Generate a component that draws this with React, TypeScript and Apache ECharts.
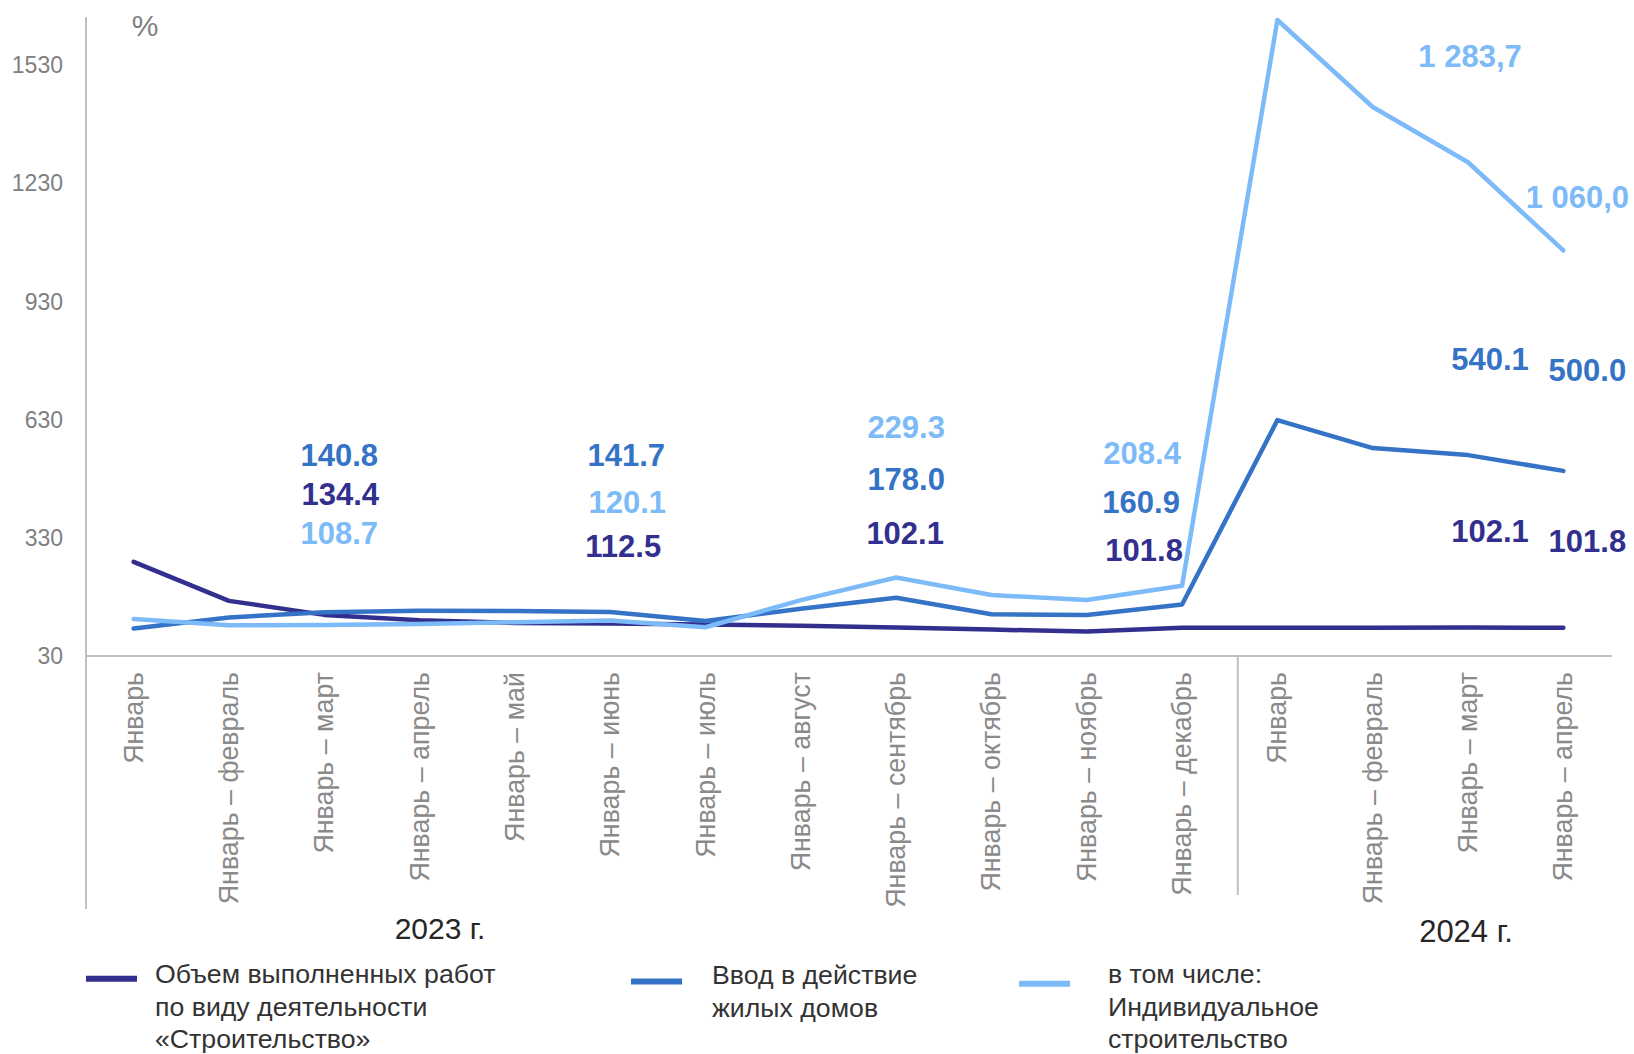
import React, { useEffect, useRef } from "react";
import * as echarts from "echarts";

// ---------- data ----------
const categories = [
  "Январь",
  "Январь – февраль",
  "Январь – март",
  "Январь – апрель",
  "Январь – май",
  "Январь – июнь",
  "Январь – июль",
  "Январь – август",
  "Январь – сентябрь",
  "Январь – октябрь",
  "Январь – ноябрь",
  "Январь – декабрь",
  "Январь",
  "Январь – февраль",
  "Январь – март",
  "Январь – апрель",
];

const seriesNames = [
  "Объем выполненных работ\nпо виду деятельности\n«Строительство»",
  "Ввод в действие\nжилых домов",
  "в том числе:\nИндивидуальное\nстроительство",
];

const workVolume = [269, 170, 134.4, 121, 114, 112.5, 110, 107, 102.1, 97, 92, 101.8, 102.0, 101.8, 102.1, 101.8];
const housing = [100, 128, 140.8, 145, 144, 141.7, 119, 150, 178.0, 136, 134, 160.9, 629, 558, 540.1, 500.0];
const individual = [124, 108, 108.7, 111, 116, 120.1, 103, 172, 229.3, 185, 172, 208.4, 1645, 1424, 1283.7, 1060.0];

const labelCategoryIndex = [2, 5, 8, 11, 14, 15];
const workLabels = ["134.4", "112.5", "102.1", "101.8", "102.1", "101.8"];
const housingLabels = ["140.8", "141.7", "178.0", "160.9", "540.1", "500.0"];
const individualLabels = ["108.7", "120.1", "229.3", "208.4", "1 283,7", "1 060,0"];

const yearLabels = ["2023 г.", "2024 г."];
const unitLabel = "%";

// ---------- layout / style ----------
const W = 1634;
const H = 1054;
const GRID = { left: 86, right: 23, top: 18, bottom: 398 };
const Y_MIN = 30;
const Y_MAX = 1650;
const Y_INTERVAL = 300;

const COLORS = ["#322F8F", "#3473C5", "#7DBAF8"];
const FONT = "'Liberation Sans', Arial, Helvetica, sans-serif";
const AXIS_COLOR = "#BFBFBF";
const SEP_DX = 8;

// label anchor heights (axis units) and horizontal pixel offsets
const workLabelY = [441, 307, 342, 299, 345, 322];
const housingLabelY = [540, 538, 479, 421, 784, 754];
const individualLabelY = [342, 421, 611, 543, 1551, 1193];
const workLabelDx = [16, 13, 9, -38, 22, 24];
const housingLabelDx = [15, 16, 10, -41, 22, 24];
const individualLabelDx = [15, 17, 10, -40, 2, 14];

// legend: left, top, spacer-line height above the text, left text padding
const legendLayout = [
  { left: 86, top: 902, spacer: 56, padLeft: 13 },
  { left: 631, top: 939, spacer: 20, padLeft: 25 },
  { left: 1019, top: 912, spacer: 46, padLeft: 33 },
];

function makeMarkPoint(texts: string[], ys: number[], dxs: number[], color: string) {
  return {
    symbol: "circle",
    symbolSize: 1,
    silent: true,
    itemStyle: { color: "rgba(0,0,0,0)" },
    label: {
      show: true,
      position: "inside",
      color,
      fontSize: 31,
      fontWeight: "bold",
      fontFamily: FONT,
    },
    data: labelCategoryIndex.map((c, i) => ({
      coord: [c, ys[i]],
      label: { formatter: texts[i], offset: [dxs[i], 0] },
    })),
  };
}

export default function App() {
  const ref = useRef<HTMLDivElement>(null);

  useEffect(() => {
    if (!ref.current) return;
    const chart = echarts.init(ref.current, undefined, { renderer: "svg" });

    const values = [workVolume, housing, individual];
    const labelTexts = [workLabels, housingLabels, individualLabels];
    const labelYs = [workLabelY, housingLabelY, individualLabelY];
    const labelDxs = [workLabelDx, housingLabelDx, individualLabelDx];

    chart.setOption({
      animation: false,
      textStyle: { fontFamily: FONT },
      grid: { ...GRID, containLabel: false },
      legend: seriesNames.map((name, i) => ({
        data: [name],
        left: legendLayout[i].left,
        top: legendLayout[i].top,
        padding: 0,
        icon: "rect",
        itemWidth: 51,
        itemHeight: 6,
        selectedMode: false,
        formatter: (n: string) =>
          "{s| }\n" +
          n
            .split("\n")
            .map((line) => "{t|" + line + "}")
            .join("\n"),
        textStyle: {
          fontSize: 26.7,
          lineHeight: 32.5,
          color: "#333333",
          fontFamily: FONT,
          padding: [0, 0, 0, legendLayout[i].padLeft],
          rich: {
            s: { fontSize: 2, lineHeight: legendLayout[i].spacer, height: legendLayout[i].spacer },
            t: { fontSize: 26.7, lineHeight: 32.5, color: "#333333", fontFamily: FONT },
          },
        },
      })),
      xAxis: {
        type: "category",
        data: categories,
        boundaryGap: true,
        axisLine: { show: true, lineStyle: { color: AXIS_COLOR, width: 2 } },
        axisTick: { show: false },
        splitLine: { show: false },
        axisLabel: {
          rotate: 90,
          interval: 0,
          fontSize: 26.8,
          color: "#8A8A8A",
          margin: 16,
          fontFamily: FONT,
        },
      },
      yAxis: {
        type: "value",
        min: Y_MIN,
        max: Y_MAX,
        interval: Y_INTERVAL,
        axisLine: { show: true, lineStyle: { color: AXIS_COLOR, width: 2 } },
        axisTick: { show: false },
        splitLine: { show: false },
        axisLabel: {
          showMaxLabel: false,
          fontSize: 23,
          color: "#808080",
          margin: 23,
          fontFamily: FONT,
          formatter: (v: number) => String(v),
        },
      },
      series: seriesNames.map((name, i) => ({
        name,
        type: "line",
        data: values[i],
        symbol: "none",
        z: 3 + i,
        lineStyle: { color: COLORS[i], width: 4.5, cap: "round", join: "round" },
        itemStyle: { color: COLORS[i] },
        markPoint: makeMarkPoint(labelTexts[i], labelYs[i], labelDxs[i], COLORS[i]),
      })),
    });

    const x11 = chart.convertToPixel({ xAxisIndex: 0 }, 11) as number;
    const x12 = chart.convertToPixel({ xAxisIndex: 0 }, 12) as number;
    const yBase = chart.convertToPixel({ yAxisIndex: 0 }, Y_MIN) as number;
    const sepX = (x11 + x12) / 2 + SEP_DX;

    chart.setOption({
      graphic: [
        {
          type: "line",
          silent: true,
          shape: { x1: GRID.left, y1: yBase, x2: GRID.left, y2: 909 },
          style: { stroke: AXIS_COLOR, lineWidth: 2 },
        },
        {
          type: "line",
          silent: true,
          shape: { x1: sepX, y1: yBase, x2: sepX, y2: 895 },
          style: { stroke: AXIS_COLOR, lineWidth: 2 },
        },
        {
          type: "text",
          x: 440,
          y: 928,
          silent: true,
          style: {
            text: yearLabels[0],
            fill: "#262626",
            fontSize: 30,
            fontFamily: FONT,
            align: "center",
            verticalAlign: "middle",
          },
        },
        {
          type: "text",
          x: 1466,
          y: 931,
          silent: true,
          style: {
            text: yearLabels[1],
            fill: "#262626",
            fontSize: 31,
            fontFamily: FONT,
            align: "center",
            verticalAlign: "middle",
          },
        },
        {
          type: "text",
          x: 145,
          y: 25,
          silent: true,
          style: {
            text: unitLabel,
            fill: "#808080",
            fontSize: 30,
            fontFamily: FONT,
            align: "center",
            verticalAlign: "middle",
          },
        },
      ],
    });

    return () => {
      chart.dispose();
    };
  }, []);

  return (
    <div
      ref={ref}
      style={{ position: "fixed", left: 0, top: 0, width: W, height: H, background: "#ffffff" }}
    />
  );
}
